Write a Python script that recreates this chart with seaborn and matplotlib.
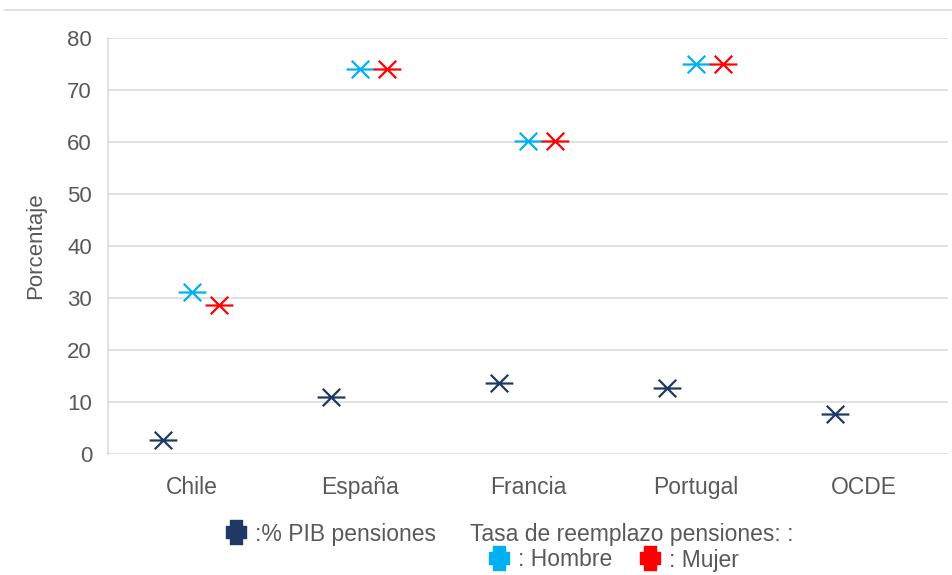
import numpy as np
import pandas as pd
import matplotlib
matplotlib.use("Agg")
import matplotlib.pyplot as plt
from matplotlib.path import Path
from matplotlib.lines import Line2D
import seaborn as sns

# ---------------- data ----------------
categories = ["Chile", "España", "Francia", "Portugal", "OCDE"]
pib_pensiones = [2.8, 11.0, 13.6, 12.7, 7.8]
tasa_hombre = [31.1, 74.0, 60.1, 75.0, np.nan]
tasa_mujer = [28.6, 74.0, 60.1, 75.0, np.nan]
y_ticks = [0, 10, 20, 30, 40, 50, 60, 70, 80]

series_names = ["pib", "hombre", "mujer"]
series_values = [pib_pensiones, tasa_hombre, tasa_mujer]
legend_labels = [":% PIB pensiones", ": Hombre", ": Mujer"]
legend_title_text = "Tasa de reemplazo pensiones: :"

# ---------------- style ----------------
sns.set_theme(style="white")
plt.rcParams["font.family"] = ["Liberation Sans", "DejaVu Sans"]
TXT = "#595959"
GRID = "#d9d9d9"
colors = {"pib": "#203864", "hombre": "#00b0f0", "mujer": "#ff0000"}
offsets = {"pib": -0.17, "hombre": 0.0, "mujer": 0.163}

# star-like marker: horizontal bar + X
star = Path(
    [(-1, 0), (1, 0), (-0.63, -0.63), (0.63, 0.63), (-0.63, 0.63), (0.63, -0.63)],
    [Path.MOVETO, Path.LINETO, Path.MOVETO, Path.LINETO, Path.MOVETO, Path.LINETO],
)
# thick plus for legend
pv = [(-6, 11.5), (6, 11.5), (6, 6), (9.5, 6), (9.5, -6), (6, -6), (6, -11.5),
      (-6, -11.5), (-6, -6), (-9.5, -6), (-9.5, 6), (-6, 6), (-6, 11.5)]
plus = Path(pv, [Path.MOVETO] + [Path.LINETO] * 11 + [Path.CLOSEPOLY])

# long table
rows = []
for name, vals in zip(series_names, series_values):
    for i, (cat, v) in enumerate(zip(categories, vals)):
        rows.append({"serie": name, "cat": cat, "idx": i, "valor": v})
df = pd.DataFrame(rows).dropna()
df["xpos"] = df["idx"] + df["serie"].map(offsets)

fig = plt.figure(figsize=(9.53, 5.75), dpi=100)
ax = fig.add_axes([108 / 953, 1 - 454.3 / 575, 840 / 953, 416.6 / 575])

for name in series_names:
    sub = df[df["serie"] == name]
    sns.scatterplot(data=sub, x="xpos", y="valor", marker=star, s=20 ** 2,
                    color=colors[name], edgecolor=colors[name], linewidth=1.6,
                    ax=ax, legend=False, zorder=3)

ax.set_xlim(-0.5, len(categories) - 0.5)
ax.set_ylim(0, 80)
ax.set_yticks(y_ticks)
ax.set_xticks(range(len(categories)))
ax.set_xticklabels(categories)
ax.yaxis.grid(True, color=GRID, linewidth=1.1)
ax.xaxis.grid(False)
for s in ["top", "right", "bottom"]:
    ax.spines[s].set_visible(False)
ax.spines["left"].set_color(GRID)
ax.spines["left"].set_linewidth(1.1)
ax.tick_params(axis="y", length=0, pad=11.5, labelsize=16, labelcolor=TXT)
ax.tick_params(axis="x", length=0, pad=15.5, labelsize=16.5, labelcolor=TXT)
ax.set_xlabel("")
ax.set_ylabel("Porcentaje", fontsize=16, color=TXT)
ax.yaxis.set_label_coords(-0.074, 0.5)

# top border line
fig.add_artist(Line2D([4 / 953, 1], [1 - 10.3 / 575, 1 - 10.3 / 575],
                      color=GRID, linewidth=1.1, transform=fig.transFigure))

fs = 16.5
h_pib = Line2D([], [], marker=plus, color=colors["pib"], linestyle="none", markersize=17)
h_none = Line2D([], [], marker="", linestyle="none")
h_h = Line2D([], [], marker=plus, color=colors["hombre"], linestyle="none", markersize=17)
h_m = Line2D([], [], marker=plus, color=colors["mujer"], linestyle="none", markersize=17)

leg1 = fig.legend([h_pib, h_none], [legend_labels[0], legend_title_text],
                  loc="center left", bbox_to_anchor=(224.5 / 953, 1 - 534 / 575),
                  bbox_transform=fig.transFigure, ncol=2, frameon=False,
                  borderpad=0, borderaxespad=0, handlelength=1.0,
                  handletextpad=0.33, columnspacing=0.15, fontsize=fs,
                  labelcolor=TXT)
leg2 = fig.legend([h_h, h_m], [legend_labels[1], legend_labels[2]],
                  loc="center left", bbox_to_anchor=(487.5 / 953, 1 - 560 / 575),
                  bbox_transform=fig.transFigure, ncol=2, frameon=False,
                  borderpad=0, borderaxespad=0, handlelength=1.0,
                  handletextpad=0.33, columnspacing=1.16, fontsize=fs,
                  labelcolor=TXT)

fig.savefig("out.png", dpi=100)
